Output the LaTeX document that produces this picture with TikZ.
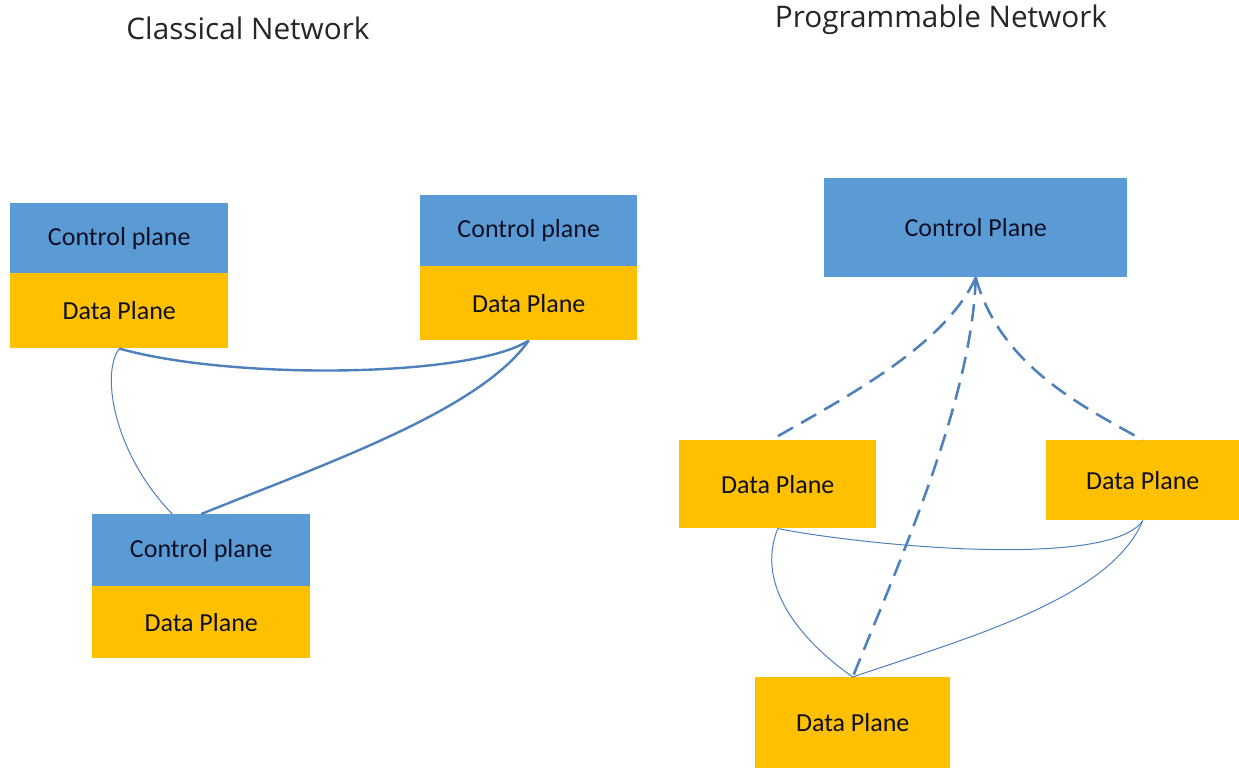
\documentclass[tikz,border=0pt]{standalone}
\usepackage{fontspec}
\setmainfont{Carlito}
\newfontfamily\titlefont{Open Sans}
\definecolor{cpblue}{HTML}{5B9BD5}
\definecolor{dpgold}{HTML}{FFC000}
\definecolor{linkblue}{RGB}{78,128,188}
\definecolor{txtdark}{RGB}{15,15,35}
\begin{document}
\begin{tikzpicture}[x=0.75pt,y=-0.75pt,
  plane/.style={draw=none,rectangle,inner sep=0pt,anchor=north west,text=txtdark,font=\fontsize{19.5}{22}\selectfont},
  cpbox/.style={plane,fill=cpblue},
  dpbox/.style={plane,fill=dpgold},
  title/.style={font=\titlefont\fontsize{22.3}{26}\selectfont,text=black!85},
  thick link/.style={draw=linkblue,line width=1.8pt},
  thin link/.style={draw=linkblue,line width=0.75pt},
  ctrl link/.style={draw=linkblue,line width=1.9pt,dash pattern=on 13pt off 7pt}]
\useasboundingbox (0,0) rectangle (1239,768);
\fill[white] (0,0) rectangle (1239,768);
% titles
\node[title] (t1) at (248,28) {Classical Network};
\node[title] (t2) at (941,20) {Programmable Network};
% classical network
\node[cpbox,minimum width=163.5pt,minimum height=52.5pt] (cpA) at (10,203) {Control plane};
\node[dpbox,minimum width=163.5pt,minimum height=56.25pt] (dpA) at (10,273) {Data Plane};
\node[cpbox,minimum width=162.75pt,minimum height=53.25pt] (cpB) at (420,195) {Control plane};
\node[dpbox,minimum width=162.75pt,minimum height=55.5pt] (dpB) at (420,266) {Data Plane};
\node[cpbox,minimum width=163.5pt,minimum height=54pt] (cpC) at (92,514) {Control plane};
\node[dpbox,minimum width=163.5pt,minimum height=54pt] (dpC) at (92,586) {Data Plane};
\draw[thick link] (dpA.south) .. controls (230,380) and (470,378) .. (dpB.south);
\draw[thin link] (dpA.south) .. controls (100,375) and (115,455) .. ([xshift=-21.75pt]cpC.north);
\draw[thick link] (dpB.south) .. controls (480,410) and (330,462) .. (cpC.north);
% programmable network
\node[cpbox,minimum width=227.25pt,minimum height=74.25pt] (cpR) at (824,178) {Control Plane};
\node[dpbox,minimum width=147.75pt,minimum height=66pt] (dpL) at (679,440) {Data Plane};
\node[dpbox,minimum width=144.75pt,minimum height=60pt] (dpR) at (1046,440) {Data Plane};
\node[dpbox,minimum width=146.25pt,minimum height=68.25pt] (dpM) at (755,677) {Data Plane};
\draw[ctrl link] (cpR.south) .. controls (945,345) and (850,395) .. ([xshift=-5pt]dpL.north);
\draw[ctrl link] (cpR.south) .. controls (972,400) and (900,560) .. (dpM.north);
\draw[ctrl link] (cpR.south) .. controls (1000,365) and (1080,405) .. (dpR.north);
\draw[thin link] (dpL.south) .. controls (860,545) and (1110,570) .. (dpR.south);
\draw[thin link] (dpL.south) .. controls (755,585) and (800,640) .. (dpM.north);
\draw[thin link] (dpR.south) .. controls (1110,600) and (960,640) .. (dpM.north);
\end{tikzpicture}
\end{document}
